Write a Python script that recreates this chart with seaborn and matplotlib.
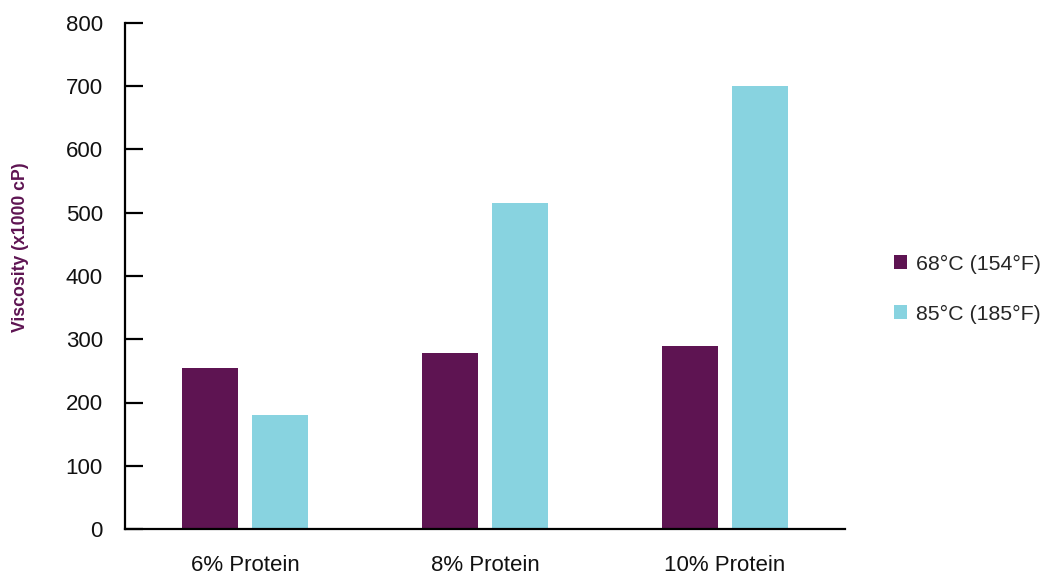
import matplotlib
matplotlib.use("Agg")
import matplotlib.pyplot as plt
import seaborn as sns
import pandas as pd

categories = ["6% Protein", "8% Protein", "10% Protein"]
series_names = ["68°C (154°F)", "85°C (185°F)"]
values_68 = [255, 278, 290]
values_85 = [181, 516, 700]
yticks = [0, 100, 200, 300, 400, 500, 600, 700, 800]

colors = ["#5E1452", "#88D3E0"]

df = pd.DataFrame({
    "Protein": categories * 2,
    "Series": [series_names[0]] * 3 + [series_names[1]] * 3,
    "Viscosity": values_68 + values_85,
})

sns.set_theme(style="white")
plt.rcParams["font.family"] = ["Liberation Sans", "DejaVu Sans"]

fig = plt.figure(figsize=(10.47, 5.75), dpi=100)
ax = fig.add_axes([125 / 1047, 46 / 575, 720 / 1047, 506 / 575])

sns.barplot(data=df, x="Protein", y="Viscosity", hue="Series",
            palette=colors, width=0.583, gap=0.186, ax=ax, saturation=1,
            errorbar=None, linewidth=0)

ax.set_xlim(-0.5, 2.5)
ax.set_ylim(0, 800)
ax.set_yticks(yticks)
ax.set_xlabel("")
ax.set_ylabel("Viscosity (x1000 cP)", color="#5E1452", fontsize=12.7,
              fontweight="bold")
ax.yaxis.set_label_coords(-0.134, 0.557)

for s in ["top", "right"]:
    ax.spines[s].set_visible(False)
for s in ["left", "bottom"]:
    ax.spines[s].set_color("black")
    ax.spines[s].set_linewidth(1.6)

ax.tick_params(axis="y", direction="in", length=13, width=1.6, color="black",
               labelsize=16, pad=16, labelcolor="#111111", left=True)
ax.tick_params(axis="x", length=0, labelsize=16, pad=19, labelcolor="#111111")

handles, labels = ax.get_legend_handles_labels()
ax.legend(handles, labels, loc="center left", bbox_to_anchor=(894 / 1047, 0.497),
          bbox_transform=fig.transFigure, frameon=False, fontsize=15.4,
          handlelength=0.6, handleheight=0.6, handletextpad=0.45,
          labelspacing=1.45, borderpad=0, borderaxespad=0)

fig.savefig("out.png", dpi=100)
